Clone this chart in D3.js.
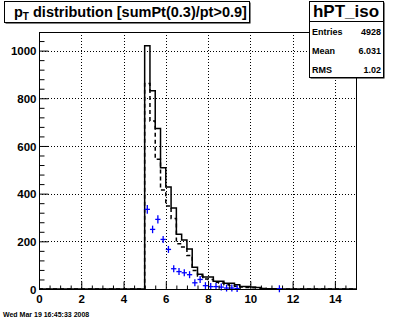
<!DOCTYPE html>
<html>
<head>
<meta charset="utf-8">
<script src="https://cdn.jsdelivr.net/npm/d3@7"></script>
<style>
  html, body { margin: 0; padding: 0; background: #fff; }
  svg { display: block; font-family: "Liberation Sans", Arial, Helvetica, sans-serif; font-weight: bold; }
</style>
</head>
<body>
<svg id="c" width="396" height="322"></svg>
<script>
// Histogram binning: 60 bins of 0.25 over [0, 15]; filled bins start at 5.0
const binWidth = 0.25;
const firstBin = 5.0;

// solid histogram (all candidates)
const solidCounts = [1020, 832, 673, 509, 428, 340, 230, 206, 168, 91, 62, 50, 50, 33, 33, 24,
                     24, 18, 10, 10, 8, 6, 2, 1, 1];
// dashed histogram
const dashedCounts = [862, 705, 544, 415, 348, 296, 190, 176, 140, 78, 55, 42, 40, 28, 25, 18,
                      15, 12, 8, 6, 5, 4, 2, 1, 0];
// blue points (bin centres), with sqrt(N) errors
const pointCounts = [334, 250, 292, 208, 166, 85, 73, 68, 60, 26, 40, 14, 10, 10, 8, 4, 4, 2];
const extraPoints = [{x: 11.375, n: 1}];

const xTicks = [0, 2, 4, 6, 8, 10, 12, 14];
const yTicks = [0, 200, 400, 600, 800, 1000];

const titleText = "distribution [sumPt(0.3)/pt>0.9]";
const statsName = "hPT_iso";
const statsRows = [["Entries", "4928"], ["Mean", "6.031"], ["RMS", "1.02"]];
const dateText = "Wed Mar 19 16:45:33 2008";

const svg = d3.select("#c");
const frame = {left: 39, right: 356, top: 32, bottom: 289};

const x = d3.scaleLinear().domain([0, 15]).range([frame.left, frame.right]);
const y = d3.scaleLinear().domain([0, 1078]).range([frame.bottom, frame.top]);

// grid (dotted)
const grid = svg.append("g").attr("stroke", "#000").attr("stroke-width", 1).attr("stroke-dasharray", "1,2");
grid.selectAll("line.v").data(xTicks.filter(d => d > 0)).join("line")
  .attr("x1", d => Math.round(x(d)) + 0.5).attr("x2", d => Math.round(x(d)) + 0.5)
  .attr("y1", frame.top).attr("y2", frame.bottom);
grid.selectAll("line.h").data(yTicks.filter(d => d > 0)).join("line")
  .attr("x1", frame.left).attr("x2", frame.right)
  .attr("y1", d => Math.round(y(d)) + 0.5).attr("y2", d => Math.round(y(d)) + 0.5);

// build full step series over [0, 15]
function fullSeries(counts) {
  const n = Math.round(15 / binWidth);
  const off = Math.round(firstBin / binWidth);
  const pts = [];
  for (let i = 0; i < n; i++) {
    const v = (i >= off && i - off < counts.length) ? counts[i - off] : 0;
    pts.push({x: i * binWidth, v});
  }
  pts.push({x: 15, v: 0});
  return pts;
}
const step = d3.line().x(d => x(d.x)).y(d => y(d.v)).curve(d3.curveStepAfter);

svg.append("path").datum(fullSeries(dashedCounts))
  .attr("d", step).attr("fill", "none").attr("stroke", "#000")
  .attr("stroke-width", 1.5).attr("stroke-dasharray", "4,3");
svg.append("path").datum(fullSeries(solidCounts))
  .attr("d", step).attr("fill", "none").attr("stroke", "#000").attr("stroke-width", 1.5);

// blue points with errors
const pts = pointCounts.map((n, i) => ({x: firstBin + (i + 0.5) * binWidth, n})).concat(extraPoints);
const pg = svg.append("g").attr("stroke", "#0000ff").attr("stroke-width", 1.3);
pts.forEach(p => {
  const cx = x(p.x), cy = y(p.n);
  const e = Math.max(y(0) - y(Math.sqrt(p.n)), 3.5);
  pg.append("line").attr("x1", x(p.x - binWidth / 2)).attr("x2", x(p.x + binWidth / 2)).attr("y1", cy).attr("y2", cy);
  pg.append("line").attr("x1", cx).attr("x2", cx).attr("y1", cy - e).attr("y2", cy + e);
});

// frame
svg.append("rect").attr("x", frame.left + 0.5).attr("y", frame.top + 0.5)
  .attr("width", frame.right - frame.left).attr("height", frame.bottom - frame.top)
  .attr("fill", "none").attr("stroke", "#000");

// axes with inward ticks
const xAxis = svg.append("g").attr("transform", `translate(0,${frame.bottom + 0.5})`)
  .call(d3.axisBottom(x).tickValues(xTicks).tickSize(-8).tickPadding(12).tickFormat(d3.format("d")));
svg.append("g").attr("transform", `translate(0,${frame.bottom + 0.5})`)
  .call(d3.axisBottom(x).tickValues(d3.range(0, 15.01, 0.5).filter(d => d % 2 !== 0)).tickSize(-4).tickFormat(""));
const yAxis = svg.append("g").attr("transform", `translate(${frame.left + 0.5},0)`)
  .call(d3.axisLeft(y).tickValues(yTicks).tickSize(-9).tickPadding(3).tickFormat(d3.format("d")));
svg.append("g").attr("transform", `translate(${frame.left + 0.5},0)`)
  .call(d3.axisLeft(y).tickValues(d3.range(0, 1078, 40).filter(d => d % 200 !== 0)).tickSize(-5).tickFormat(""));
svg.selectAll(".domain").remove();
svg.selectAll(".tick line").attr("stroke", "#000");
svg.selectAll(".tick text").attr("fill", "#000").attr("font-size", 11.5).attr("font-weight", "bold")
  .attr("font-family", "Liberation Sans, Arial, sans-serif");
xAxis.selectAll(".tick text").attr("dy", "0.1em");
yAxis.selectAll(".tick text").attr("dy", "0.36em");

// title box with shadow
function boxWithShadow(x0, y0, w, h) {
  svg.append("rect").attr("x", x0 + 1.5).attr("y", y0 + 1.5).attr("width", w).attr("height", h).attr("fill", "#000");
  svg.append("rect").attr("x", x0 + 0.5).attr("y", y0 + 0.5).attr("width", w).attr("height", h)
    .attr("fill", "#fff").attr("stroke", "#000");
}
boxWithShadow(4, 1, 245, 21);
const tt = svg.append("text").attr("x", 14).attr("y", 17).attr("font-size", 14.5);
tt.append("tspan").text("p");
tt.append("tspan").attr("font-size", 10).attr("dy", 3).text("T");
tt.append("tspan").attr("dy", -3).text(" " + titleText);

// stats box
boxWithShadow(309, 1, 74, 76);
svg.append("line").attr("x1", 309).attr("x2", 383.5).attr("y1", 21.5).attr("y2", 21.5).attr("stroke", "#000");
svg.append("text").attr("x", 346).attr("y", 16.5).attr("text-anchor", "middle").attr("font-size", 17).text(statsName);
statsRows.forEach((r, i) => {
  const yy = 35 + i * 19.2;
  svg.append("text").attr("x", 312).attr("y", yy).attr("font-size", 9).text(r[0]);
  svg.append("text").attr("x", 381).attr("y", yy).attr("font-size", 9).attr("text-anchor", "end").text(r[1]);
});

// date stamp
svg.append("text").attr("x", 3).attr("y", 317).attr("font-size", 7).text(dateText);
</script>
</body>
</html>
